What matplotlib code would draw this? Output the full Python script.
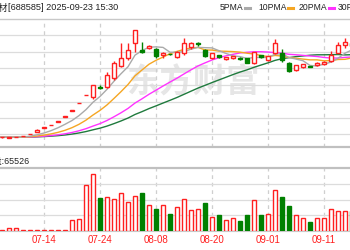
import numpy as np
import pandas as pd
import matplotlib
matplotlib.use("Agg")
import matplotlib.pyplot as plt
import matplotlib.transforms as mtransforms

# ---------------- data ----------------
# bar index 0..50 visible; 30 earlier flat sessions used for the moving averages
pre_close = [9.7] * 30

opens = [9.6, 9.5, 9.9, 10.7, 12.7, 15.5, 19.0, 21.7, 25.3, 30.0,
         36.3, 43.7, 51.7, 50.3, 59.3, 60.3, 68.7, 81.0, 89.0, 103.7,
         97.0, 98.7, 97.7, 92.0, 93.3, 90.3, 93.7, 99.7, 103.5, 97.0,
         88.7, 92.0, 87.7, 88.7, 89.3, 88.7, 84.0, 92.0, 87.0, 94.3,
         93.7, 84.3, 77.0, 79.7, 80.5, 81.7, 82.7, 86.0, 94.3, 102.0, 104.0]
closes = [9.8, 10.1, 10.0, 10.7, 12.7, 17.5, 19.0, 21.7, 25.3, 30.0,
          36.3, 43.7, 51.7, 62.0, 59.0, 72.0, 84.3, 89.0, 97.0, 117.0,
          94.7, 101.0, 91.0, 94.3, 92.7, 95.0, 103.7, 103.7, 103.0, 91.3,
          93.7, 90.0, 89.7, 91.0, 87.7, 84.3, 95.0, 89.7, 91.0, 103.7,
          87.0, 76.0, 82.0, 82.7, 80.1, 84.3, 85.3, 92.0, 102.0, 105.3, 101.0]
highs = [10.0, 10.4, 10.4, 10.7, 12.7, 18.0, 19.0, 21.7, 25.3, 30.0,
         36.3, 43.7, 51.7, 62.0, 62.0, 75.3, 86.0, 104.0, 104.3, 117.0,
         105.3, 102.0, 99.0, 95.0, 93.5, 96.0, 108.7, 105.0, 105.0, 97.7,
         94.5, 92.5, 90.3, 91.5, 89.7, 89.0, 95.3, 92.5, 91.5, 108.0,
         97.7, 84.7, 82.5, 83.0, 81.0, 84.7, 85.7, 96.3, 105.3, 108.7, 106.0]
lows = [9.4, 9.3, 9.6, 10.7, 12.7, 15.0, 19.0, 21.7, 25.3, 30.0,
        36.3, 43.7, 51.7, 48.0, 58.0, 59.0, 67.0, 80.0, 87.0, 95.3,
        93.7, 98.0, 89.0, 89.0, 92.5, 89.0, 92.0, 98.0, 101.0, 90.5,
        88.0, 89.5, 87.3, 88.0, 87.3, 84.0, 83.5, 89.3, 86.5, 93.5,
        85.3, 75.5, 76.5, 79.3, 79.7, 81.3, 82.3, 85.5, 93.7, 98.7, 100.0]
volumes = [1000, 3100, 3100, 1000, 1000, 1000, 1500, 1000, 1000, 1500,
           11400, 12500, 47800, 59200, 34300, 35300, 33300, 39500, 30200, 36400,
           39500, 27000, 22900, 27000, 17700, 25000, 33300, 21800, 22900, 29100,
           14600, 16600, 11400, 13500, 10400, 16600, 32200, 16600, 17700, 42600,
           35300, 26000, 16600, 13500, 9400, 13500, 13500, 22900, 20800, 20800, 20800]
# volume colour flag: 1 = up (red), 0 = down (green)
vol_up = [1, 1, 1, 1, 1, 1, 1, 1, 1, 1,
          1, 1, 1, 1, 0, 1, 1, 1, 1, 1,
          0, 1, 0, 1, 0, 1, 1, 1, 1, 0,
          1, 0, 1, 1, 0, 0, 1, 0, 1, 1,
          0, 0, 1, 1, 0, 1, 1, 1, 1, 1, 0]

date_idx = [-2, 6, 14, 22, 30, 38, 46]
date_labels = ["06-25", "07-14", "07-24", "08-08", "08-20", "09-01", "09-11"]

price_grid = [13, 29, 45, 62, 79, 95, 112]
vol_max = 65526
ma_periods = [5, 10, 20, 30]
ma_names = ["5PMA", "10PMA", "20PMA", "30PMA"]
ma_colors = ["#aaaaaa", "#f5a623", "#ff33ff", "#1f7a3d"]

RED = "#ff2020"
GREEN = "#008000"

# ---------------- figure ----------------
W, H = 350, 250
fig = plt.figure(figsize=(W / 100, H / 100), dpi=100)


def rect(x0, y0, x1, y1):
    return [x0 / W, 1 - y1 / H, (x1 - x0) / W, (y1 - y0) / H]


xlim = (-2 / 7, 348 / 7)
FONT = ["Liberation Sans", "Noto Sans CJK SC", "DejaVu Sans"]

ax = fig.add_axes(rect(0, 19, 350, 147))
axv = fig.add_axes(rect(0, 168, 350, 231))

for a in (ax, axv):
    a.set_xlim(*xlim)
    a.set_xticks(date_idx[1:])
    a.tick_params(length=0, labelbottom=False, labelleft=False)
    a.set_yticks([])
    for s in a.spines.values():
        s.set_visible(False)
    a.grid(axis="x", color="#cfcfcf", linestyle=(0, (3, 3)), linewidth=0.9)
    a.set_axisbelow(True)

# main chart
ax.set_ylim(0, 128)
ax.set_yticks(price_grid)
ax.grid(axis="y", color="#dcdcdc", linewidth=0.9)
ax.tick_params(axis="y", length=0, labelleft=False)
ax.spines["top"].set_visible(True)
ax.spines["top"].set_color("#c8c8c8")
ax.spines["top"].set_linewidth(1.0)
ax.spines["bottom"].set_visible(True)
ax.spines["bottom"].set_color("#c0c0c0")
ax.spines["bottom"].set_linewidth(1.6)

# watermark
ax.text(0.55, 0.5, "东方财富", transform=ax.transAxes, ha="center", va="center",
        fontsize=24, color="#e6e6e6", fontweight="bold", family=["Noto Sans CJK SC"],
        zorder=0.5)

# moving averages
all_close = pd.Series(pre_close + closes)
xs_all = np.arange(-len(pre_close), len(closes))
for p, c in zip(ma_periods[::-1], ma_colors[::-1]):
    ma = all_close.rolling(p).mean()
    ax.plot(xs_all, ma, color=c, linewidth=1.0, zorder=2)

# candles
idx = np.arange(len(closes))
o = np.array(opens); cl = np.array(closes); hi = np.array(highs); lo = np.array(lows)
up = cl >= o
cols = np.where(up, RED, GREEN)
ax.vlines(idx, lo, hi, colors=cols, linewidth=1.0, zorder=3)
bottom = np.minimum(o, cl)
height = np.maximum(np.abs(cl - o), 0.6)
ax.bar(idx, height, bottom=bottom, width=0.6,
       color=np.where(up, "white", GREEN), edgecolor=cols, linewidth=1.0, zorder=4)

# volume
axv.set_ylim(0, vol_max)
axv.set_yticks([vol_max / 4, vol_max / 2, vol_max * 3 / 4])
axv.grid(axis="y", color="#dcdcdc", linewidth=0.9)
axv.spines["top"].set_visible(True)
axv.spines["top"].set_color("#c0c0c0")
axv.spines["top"].set_linewidth(1.6)
axv.spines["bottom"].set_visible(True)
axv.spines["bottom"].set_color("#c8c8c8")
vu = np.array(vol_up) == 1
axv.bar(idx, volumes, width=0.6, color=np.where(vu, "white", GREEN),
        edgecolor=np.where(vu, RED, GREEN), linewidth=1.0, zorder=3)

# date labels
trans = mtransforms.blended_transform_factory(axv.transData, axv.transAxes)
for xi, lab in zip(date_idx, date_labels):
    axv.text(xi, -0.14, lab, transform=trans, ha="center", va="center",
             fontsize=7, color=RED, family=FONT, clip_on=False)

# header texts (the reference is cropped at the left edge)
fig.text(8 / W, 1 - 8 / H, "上纬新材", ha="right", va="center",
         fontsize=6.6, color="#222222", family=["Noto Sans CJK SC", "DejaVu Sans"])
fig.text(8 / W, 1 - 8 / H, "[688585] 2025-09-23 15:30", ha="left", va="center",
         fontsize=6.6, color="#222222", family=FONT)
fig.text(30 / W, 1 - 161 / H, "成交量:65526", ha="right", va="center",
         fontsize=6.4, color="#222222", family=FONT)

# legend
leg_x = [220, 258, 299, 338]
for xname, name, c in zip(leg_x, ma_names, ma_colors):
    t = fig.text(xname / W, 1 - 8 / H, name, ha="left", va="center",
                 fontsize=6.2, color="#222222", family=FONT)
bar_x = [(245, 250), (288, 293), (329, 334)]
for (x0, x1), c in zip(bar_x, ma_colors):
    fig.add_artist(plt.Line2D([x0 / W, x1 / W], [1 - 8 / H, 1 - 8 / H], color=c,
                              linewidth=2.2, transform=fig.transFigure))

fig.savefig("out.png", dpi=100)
